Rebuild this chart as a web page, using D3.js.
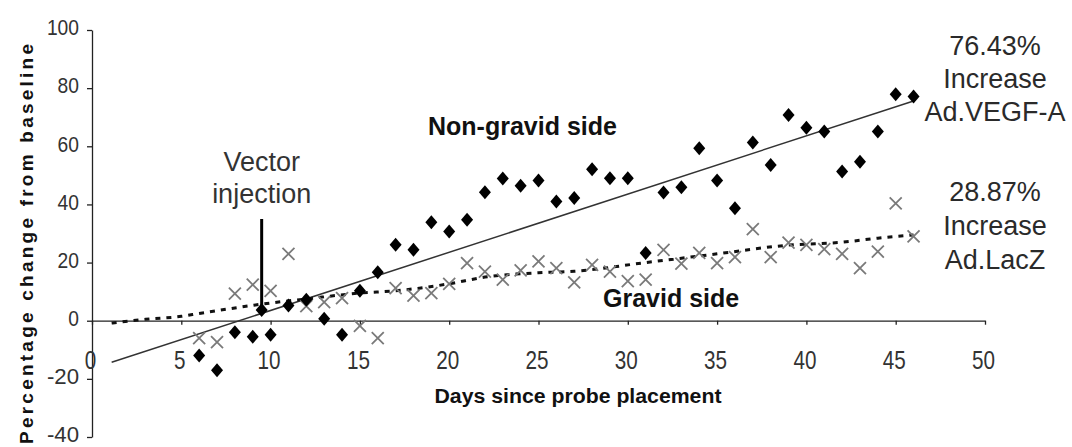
<!DOCTYPE html>
<html>
<head>
<meta charset="utf-8">
<script src="https://cdn.jsdelivr.net/npm/d3@7"></script>
<style>
  body { margin: 0; background: #fff; }
  svg { display: block; font-family: "Liberation Sans", Arial, sans-serif; }
  .axis path, .axis line { stroke: #222; stroke-width: 1.3; }
  .axis text { fill: #333; }
</style>
</head>
<body>
<svg class="chart"></svg>
<script>
// days and values
const nonGravidDays = [6, 7, 8, 9, 10, 11, 12, 13, 14, 15, 16, 17, 18, 19, 20, 21, 22, 23, 24, 25, 26, 27, 28, 29, 30, 31, 32, 33, 34, 35, 36, 37, 38, 39, 40, 41, 42, 43, 44, 45, 46]
const nonGravidVals = [-12, -17, -4, -5.5, -4.8, 5.2, 7.2, 0.7, -4.8, 10.3, 16.7, 26.1, 24.4, 33.9, 30.7, 34.7, 44.2, 48.9, 46.4, 48.2, 41, 42.2, 52.1, 49, 49, 23.3, 44.1, 45.9, 59.3, 48.2, 38.7, 61.3, 53.6, 70.8, 66.4, 65.1, 51.3, 54.7, 65.1, 77.9, 77.1]

const gravidDays = [6, 7, 8, 9, 10, 11, 12, 13, 14, 15, 16, 17, 18, 19, 20, 21, 22, 23, 24, 25, 26, 27, 28, 29, 30, 31, 32, 33, 34, 35, 36, 37, 38, 39, 40, 41, 42, 43, 44, 45, 46]
const gravidVals = [-6, -7.4, 9.3, 12.4, 10.3, 23, 5, 6.4, 7.8, -1.8, -6, 11.2, 8.6, 9.5, 12.7, 19.8, 16.9, 14.1, 17.3, 20.4, 18.1, 13.2, 19.2, 16.9, 13.6, 14.1, 24.4, 19.6, 23.3, 19.8, 21.9, 31.5, 21.9, 26.9, 26.1, 24.6, 23, 18.1, 23.8, 40.4, 29]

// trend lines
const nonGravidTrendDays = [1.1, 46]
const nonGravidTrendVals = [-14.3, 75.6]
const gravidTrendDays = [1.1, 3, 5, 6, 8, 10, 12, 15, 17, 20, 22, 25, 27, 31, 35, 39, 42, 44, 46]
const gravidTrendVals = [-0.8, 0.5, 1.5, 2.5, 4.4, 6.1, 7.5, 9.5, 10.3, 12.7, 15, 16.5, 17, 20, 23, 26, 27, 28.4, 29.5]

const xTicks = [0, 5, 10, 15, 20, 25, 30, 35, 40, 45, 50]
const yTicks = [-40, -20, 0, 20, 40, 60, 80, 100]

const injectionDay = 9.5

const width = 1072, height = 447

let svg = d3.select(".chart")
    .attr("width", width)
    .attr("height", height)

let x = d3.scaleLinear().domain([0, 50]).range([92, 985])
let y = d3.scaleLinear().domain([-40, 100]).range([437, 30])

// labels in the picture are narrow, squeeze them a bit
function squeeze(sel, per) {
  sel.selectAll("text")
    .attr("textLength", d => String(d).length * per)
    .attr("lengthAdjust", "spacingAndGlyphs")
}

// y axis
svg.append("g")
    .attr("class", "axis")
    .attr("transform", "translate(" + x(0) + ",0)")
    .call(d3.axisLeft(y).tickValues(yTicks).tickFormat(d => String(d)).tickSize(5).tickPadding(8).tickSizeOuter(0))
    .call(g => g.selectAll("text").style("font-size", "22px").attr("dy", "0.22em"))
    .call(g => squeeze(g, 10.7))

// x axis sits on the zero line
svg.append("g")
    .attr("class", "axis")
    .attr("transform", "translate(0," + y(0) + ")")
    .call(d3.axisBottom(x).tickValues(xTicks).tickFormat(d => String(d)).tickSize(4).tickPadding(27).tickSizeOuter(0))
    .call(g => g.selectAll("text").style("font-size", "25px").attr("dx", -2))
    .call(g => squeeze(g, 11.5))

// trend lines
let nonGravidTrend = nonGravidTrendDays.map((d, i) => [d, nonGravidTrendVals[i]])
let gravidTrend = gravidTrendDays.map((d, i) => [d, gravidTrendVals[i]])

svg.append("path")
    .datum(nonGravidTrend)
    .attr("fill", "none")
    .attr("stroke", "#333")
    .attr("stroke-width", 1.5)
    .attr("d", d3.line().x(d => x(d[0])).y(d => y(d[1])))

svg.append("path")
    .datum(gravidTrend)
    .attr("fill", "none")
    .attr("stroke", "#111")
    .attr("stroke-width", 3)
    .attr("stroke-dasharray", "5,6")
    .attr("d", d3.line().curve(d3.curveMonotoneX).x(d => x(d[0])).y(d => y(d[1])))

// gravid side: grey crosses
let crosses = gravidDays.map((d, i) => [d, gravidVals[i]])
svg.append("g").selectAll("path")
    .data(crosses)
  .enter().append("path")
    .attr("fill", "none")
    .attr("stroke", "#7a7a7a")
    .attr("stroke-width", 1.8)
    .attr("d", function(d) {
      let cx = x(d[0]), cy = y(d[1]), r = 6
      return "M" + (cx - r) + "," + (cy - r) + "L" + (cx + r) + "," + (cy + r) +
             "M" + (cx - r) + "," + (cy + r) + "L" + (cx + r) + "," + (cy - r)
    })

// non-gravid side: black diamonds
let diamonds = nonGravidDays.map((d, i) => [d, nonGravidVals[i]])
function diamond(cx, cy, w, h) {
  return "M" + cx + "," + (cy - h) + "L" + (cx + w) + "," + cy + "L" + cx + "," + (cy + h) + "L" + (cx - w) + "," + cy + "Z"
}
svg.append("g").selectAll("path")
    .data(diamonds)
  .enter().append("path")
    .attr("fill", "#000")
    .attr("d", d => diamond(x(d[0]), y(d[1]), 6, 7))

// vector injection arrow
svg.append("line")
    .attr("x1", x(injectionDay)).attr("x2", x(injectionDay))
    .attr("y1", 219).attr("y2", 306)
    .attr("stroke", "#000")
    .attr("stroke-width", 3)
svg.append("path")
    .attr("fill", "#000")
    .attr("d", diamond(x(injectionDay), 310, 6, 7))

// labels
svg.append("text")
    .attr("x", x(injectionDay)).attr("y", 171)
    .attr("text-anchor", "middle")
    .style("font-size", "27px").style("fill", "#333")
    .text("Vector")
svg.append("text")
    .attr("x", x(injectionDay)).attr("y", 203)
    .attr("text-anchor", "middle")
    .style("font-size", "27px").style("fill", "#333")
    .text("injection")

svg.append("text")
    .attr("x", 428).attr("y", 135)
    .style("font-size", "25px").style("font-weight", "bold").style("fill", "#111")
    .text("Non-gravid side")
svg.append("text")
    .attr("x", 603).attr("y", 307)
    .style("font-size", "25px").style("font-weight", "bold").style("fill", "#111")
    .text("Gravid side")

let rightTop = ["76.43%", "Increase", "Ad.VEGF-A"]
let rightBottom = ["28.87%", "Increase", "Ad.LacZ"]
svg.append("text")
    .attr("x", 995).attr("y", 55)
    .attr("text-anchor", "middle")
    .style("font-size", "27px").style("fill", "#2a2a2a")
  .selectAll("tspan").data(rightTop).enter().append("tspan")
    .attr("x", 995).attr("dy", (d, i) => i ? 33 : 0)
    .text(d => d)
svg.append("text")
    .attr("x", 995).attr("y", 201)
    .attr("text-anchor", "middle")
    .style("font-size", "27px").style("fill", "#2a2a2a")
  .selectAll("tspan").data(rightBottom).enter().append("tspan")
    .attr("x", 995).attr("dy", (d, i) => i ? 34 : 0)
    .text(d => d)

// axis titles
svg.append("text")
    .attr("x", 578).attr("y", 403)
    .attr("text-anchor", "middle")
    .attr("textLength", 287).attr("lengthAdjust", "spacingAndGlyphs")
    .style("font-size", "20px").style("font-weight", "bold").style("fill", "#111")
    .text("Days since probe placement")
svg.append("text")
    .attr("transform", "rotate(-90)")
    .attr("x", -244).attr("y", 33)
    .attr("text-anchor", "middle")
    .attr("textLength", 400).attr("lengthAdjust", "spacing")
    .style("font-size", "19px").style("font-weight", "bold").style("fill", "#111")
    .text("Percentage change from baseline")
</script>
</body>
</html>
